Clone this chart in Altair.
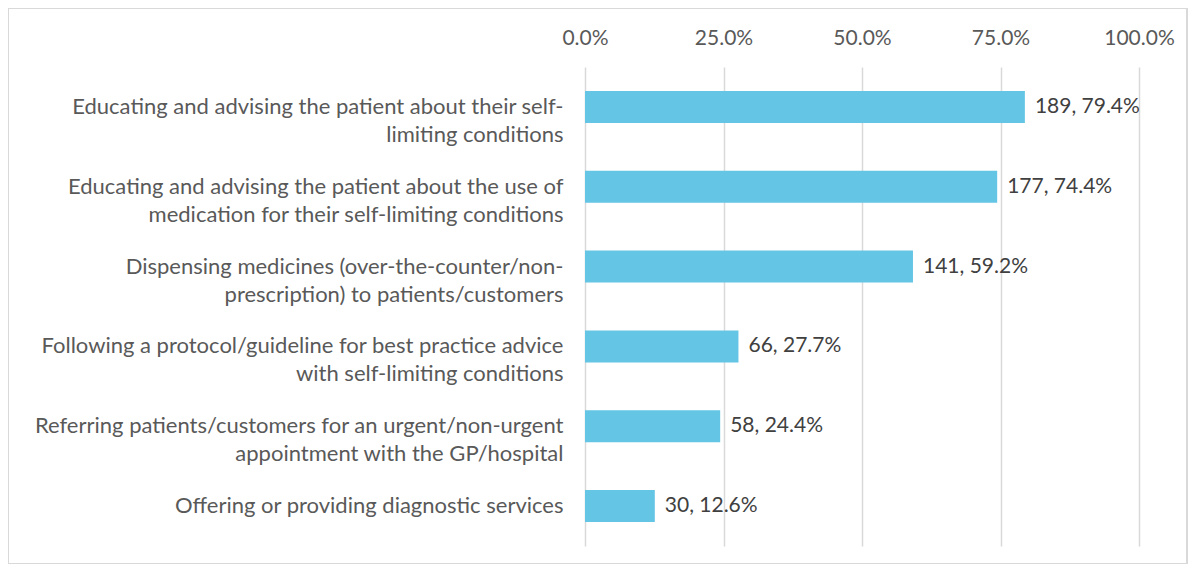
import altair as alt
import pandas as pd

categories = [
    "Educating and advising the patient about their self-|limiting conditions",
    "Educating and advising the patient about the use of|medication for their self-limiting conditions",
    "Dispensing medicines (over-the-counter/non-|prescription) to patients/customers",
    "Following a protocol/guideline for best practice advice|with self-limiting conditions",
    "Referring patients/customers for an urgent/non-urgent|appointment with the GP/hospital",
    "Offering or providing diagnostic services",
]
counts = [189, 177, 141, 66, 58, 30]
percents = [79.4, 74.4, 59.2, 27.7, 24.4, 12.6]

df = pd.DataFrame({
    "category": categories,
    "count": counts,
    "pct": [p / 100 for p in percents],
    "label": [f"{c}, {p:.1f}%" for c, p in zip(counts, percents)],
})

FONT = "Lato"
W, H = 554, 479

base = alt.Chart(df)

y_enc = alt.Y(
    "category:N",
    sort=categories,
    title=None,
    scale=alt.Scale(paddingInner=0.6, paddingOuter=0.3),
    axis=alt.Axis(
        labelExpr="split(datum.label, '|')",
        labelAlign="right",
        labelPadding=22,
        labelLimit=700,
        labelFontSize=22,
        labelLineHeight=28,
        labelColor="#595959",
        labelFont=FONT,
        ticks=False,
        domain=False,
        grid=False,
    ),
)

x_enc = alt.X(
    "pct:Q",
    title=None,
    scale=alt.Scale(domain=[0, 1]),
    axis=alt.Axis(
        orient="top",
        format=".1%",
        values=[0, 0.25, 0.5, 0.75, 1.0],
        labelFontSize=21,
        labelColor="#595959",
        labelFont=FONT,
        labelPadding=19,
        labelFlush=False,
        labelOverlap=False,
        labelBound=False,
        ticks=False,
        domain=False,
        grid=True,
        gridColor="#d9d9d9",
        gridWidth=1.5,
    ),
)

bars = base.mark_bar(color="#64C5E5").encode(x=x_enc, y=y_enc)

text = base.mark_text(
    align="left", baseline="middle", dx=10, fontSize=21, font=FONT, color="#404040"
).encode(x="pct:Q", y=alt.Y("category:N", sort=categories), text="label:N")

frame = alt.Chart(df).mark_rect(
    fill=None, stroke="#d9d9d9", strokeWidth=1.5
).encode(
    x=alt.value(-577), x2=alt.value(602), y=alt.value(-59), y2=alt.value(497)
)

chart = alt.layer(frame, bars, text).properties(
    width=W,
    height=H,
    autosize=alt.AutoSizeParams(type="none"),
    padding={"left": 577, "top": 59, "right": 49, "bottom": 18},
).configure_view(stroke=None)

chart.save("out.html", embed_options={"renderer": "svg", "actions": False})
